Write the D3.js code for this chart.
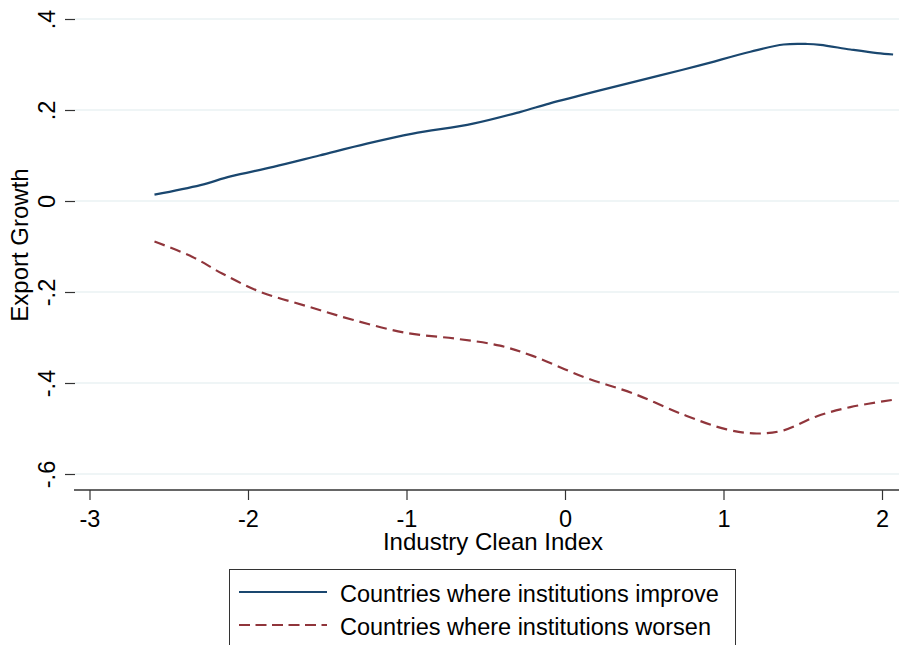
<!DOCTYPE html>
<html>
<head>
<meta charset="utf-8">
<script src="https://cdn.jsdelivr.net/npm/d3@7"></script>
<style>
  body { margin: 0; background: #fff; }
  text { font-family: Arial, "Liberation Sans", sans-serif; fill: #000; }
</style>
</head>
<body>
<div id="chart"></div>
<script>
// industry clean index (x) and export growth (y)
const improveX = [-2.59, -2.30, -2.11, -1.84, -1.55, -1.25, -0.96, -0.58, -0.28, -0.10, 0.22, 0.60, 0.85, 1.17, 1.38, 1.53, 1.61, 1.80, 1.97, 2.07];
const improveY = [0.014, 0.035, 0.054, 0.075, 0.100, 0.126, 0.148, 0.170, 0.196, 0.214, 0.243, 0.276, 0.298, 0.328, 0.344, 0.345, 0.343, 0.333, 0.325, 0.322];

const worsenX = [-2.59, -2.35, -2.16, -1.92, -1.63, -1.34, -1.00, -0.68, -0.41, -0.20, 0.12, 0.43, 0.75, 1.02, 1.21, 1.38, 1.59, 1.80, 2.07];
const worsenY = [-0.089, -0.123, -0.160, -0.200, -0.231, -0.261, -0.290, -0.303, -0.318, -0.341, -0.387, -0.423, -0.470, -0.502, -0.511, -0.504, -0.473, -0.453, -0.437];

const xTicks = [-3, -2, -1, 0, 1, 2];
const xTickLabels = ["-3", "-2", "-1", "0", "1", "2"];
const yTicks = [0.4, 0.2, 0, -0.2, -0.4, -0.6];
const yTickLabels = [".4", ".2", "0", "-.2", "-.4", "-.6"];
const seriesNames = ["Countries where institutions improve", "Countries where institutions worsen"];

const width = 899;
const height = 645;
const colors = ["#1a476f", "#90353b"];

const svg = d3.select("#chart")
  .append("svg")
  .attr("width", width)
  .attr("height", height);

const x = d3.scaleLinear()
  .domain([-3, 2])
  .range([89.5, 882]);

const y = d3.scaleLinear()
  .domain([-0.6, 0.4])
  .range([474, 19]);

// grid
svg.append("g")
  .selectAll("line")
  .data(yTicks)
  .join("line")
    .attr("x1", 75)
    .attr("x2", width)
    .attr("y1", d => y(d))
    .attr("y2", d => y(d))
    .attr("stroke", "#eaf2f3")
    .attr("stroke-width", 1.5);

// y axis (no domain line, rotated labels)
const yAxis = svg.append("g")
  .attr("transform", "translate(75,0)")
  .call(d3.axisLeft(y).tickValues(yTicks).tickSize(10).tickPadding(0).tickFormat((d, i) => yTickLabels[i]));
yAxis.select(".domain").remove();
yAxis.selectAll("line").attr("stroke", "#333").attr("stroke-width", 1.2);
yAxis.selectAll("text")
  .attr("x", null).attr("dy", null)
  .attr("text-anchor", "middle")
  .attr("transform", "translate(-20,0) rotate(-90)")
  .attr("font-size", 23.5);

// x axis
const xAxis = svg.append("g")
  .attr("transform", "translate(0,490)")
  .call(d3.axisBottom(x).tickValues(xTicks).tickSize(10).tickFormat((d, i) => xTickLabels[i]));
xAxis.select(".domain")
  .attr("d", `M74,0H${width}`)
  .attr("stroke", "#333")
  .attr("stroke-width", 1.5);
xAxis.selectAll("line").attr("stroke", "#333").attr("stroke-width", 1.2);
xAxis.selectAll("text")
  .attr("y", 37)
  .attr("dy", null)
  .attr("font-size", 23.5);

// axis titles
svg.append("text")
  .attr("x", 493)
  .attr("y", 550)
  .attr("text-anchor", "middle")
  .attr("font-size", 24)
  .text("Industry Clean Index");

svg.append("text")
  .attr("transform", "translate(28,245) rotate(-90)")
  .attr("text-anchor", "middle")
  .attr("font-size", 24)
  .text("Export Growth");

// lines
const line = d3.line()
  .x(d => x(d[0]))
  .y(d => y(d[1]))
  .curve(d3.curveCatmullRom);

const series = [
  { pts: d3.zip(improveX, improveY), dash: null },
  { pts: d3.zip(worsenX, worsenY), dash: "11,6" }
];

svg.append("g")
  .selectAll("path")
  .data(series)
  .join("path")
    .attr("d", d => line(d.pts))
    .attr("fill", "none")
    .attr("stroke", (d, i) => colors[i])
    .attr("stroke-width", 2.2)
    .attr("stroke-dasharray", d => d.dash);

// legend
const legend = svg.append("g");
legend.append("rect")
  .attr("x", 229.5)
  .attr("y", 569.5)
  .attr("width", 506)
  .attr("height", 100)
  .attr("fill", "#fff")
  .attr("stroke", "#333")
  .attr("stroke-width", 1);

const rows = legend.selectAll("g.row")
  .data(seriesNames)
  .join("g")
    .attr("class", "row")
    .attr("transform", (d, i) => `translate(0,${592 + i * 33})`);

rows.append("line")
  .attr("x1", 239)
  .attr("x2", 327)
  .attr("stroke", (d, i) => colors[i])
  .attr("stroke-width", 2.2)
  .attr("stroke-dasharray", (d, i) => i === 1 ? "11,5.5" : null);

rows.append("text")
  .attr("x", 340)
  .attr("y", 9.5)
  .attr("font-size", 23.5)
  .text(d => d);
</script>
</body>
</html>
